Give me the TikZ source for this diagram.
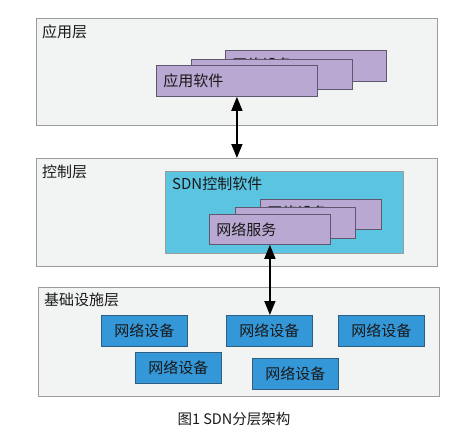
\documentclass[tikz,border=0pt]{standalone}
\usepackage{fontspec}
\setmainfont{Noto Sans CJK SC}
\usepackage{tikz}
\usetikzlibrary{positioning,arrows.meta}
\definecolor{layerfill}{HTML}{F2F3F3}
\definecolor{layerline}{HTML}{9C9C9C}
\definecolor{cardfill}{HTML}{B9A8D1}
\definecolor{cardline}{HTML}{5F5870}
\definecolor{ctrlfill}{HTML}{5BC4E1}
\definecolor{devfill}{HTML}{3498D8}
\definecolor{devline}{HTML}{2F5F80}

\tikzset{
  layer/.style={draw=layerline, fill=layerfill, line width=1.1pt, anchor=north west, inner sep=0pt},
  ltitle/.style={inner sep=0pt, font=\fontsize{15}{17}\selectfont, text=black!90},
  card/.style={draw=cardline, fill=cardfill, line width=0.8pt, anchor=north west,
    inner xsep=7pt, inner ysep=0pt, align=left, font=\fontsize{15}{17}\selectfont, text=black!90},
  backcard/.style={card, text depth=4pt},
  dev/.style={draw=devline, fill=devfill, line width=0.8pt, anchor=north west,
    minimum width=86pt, minimum height=31pt, inner sep=0pt, font=\fontsize{15}{17}\selectfont, text=black!90},
  link/.style={line width=1.5pt, {Triangle[width=11pt,length=14pt]}-{Triangle[width=11pt,length=14pt]}}
}

\begin{document}
\begin{tikzpicture}[x=1pt,y=-1pt]
    \useasboundingbox (0,0) rectangle (463,440);

    %% app layer
     \node (app) [layer, minimum width=401pt, minimum height=107pt] at (36,18) {};
     \node (apptitle) [ltitle, below right=7pt and 6pt of app.north west] {应用层};

     \node (a3) [backcard, text width=147pt, minimum height=31pt] at (225,50) {网络设备};
     \node (a2) [card, text width=147pt, minimum height=30pt] at (191,59) {};
     \node (a1) [card, text width=147pt, minimum height=31pt] at (156,65) {应用软件};

    %% control layer
     \node (ctl) [layer, minimum width=401pt, minimum height=108pt] at (36,158) {};
     \node (ctltitle) [ltitle, below right=7pt and 6pt of ctl.north west] {控制层};

     \node (sdn) [draw=layerline, fill=ctrlfill, line width=0.8pt, anchor=north west,
        minimum width=238pt, minimum height=82pt, inner sep=0pt] at (165,171) {};
     \node (sdntitle) [ltitle, below right=6pt and 7pt of sdn.north west] {SDN控制软件};

     \node (s3) [backcard, text width=107pt, minimum height=30pt] at (260,199) {网络设备};
     \node (s2) [card, text width=106pt, minimum height=31pt] at (235,207) {};
     \node (s1) [card, text width=107pt, minimum height=30pt] at (209,214) {网络服务};

    %% infrastructure layer
     \node (inf) [layer, minimum width=401pt, minimum height=109pt] at (38,287) {};
     \node (inftitle) [ltitle, below right=6pt and 6pt of inf.north west] {基础设施层};

     \node (d1) [dev] at (101,315) {网络设备};
     \node (d2) [dev] at (226,315) {网络设备};
     \node (d3) [dev] at (338,315) {网络设备};
     \node (d4) [dev] at (135,352) {网络设备};
     \node (d5) [dev] at (252,358) {网络设备};

    %% links
     \draw[link] (a1.south) -- (a1.south |- ctl.north);
     \draw[link] (s1.south) -- (s1.south |- d2.north);

    %% caption
     \node (cap) [inner sep=0pt, font=\fontsize{14.5}{16}\selectfont, text=black!90] at (234,419) {图1 SDN分层架构};

\end{tikzpicture}
\end{document}
